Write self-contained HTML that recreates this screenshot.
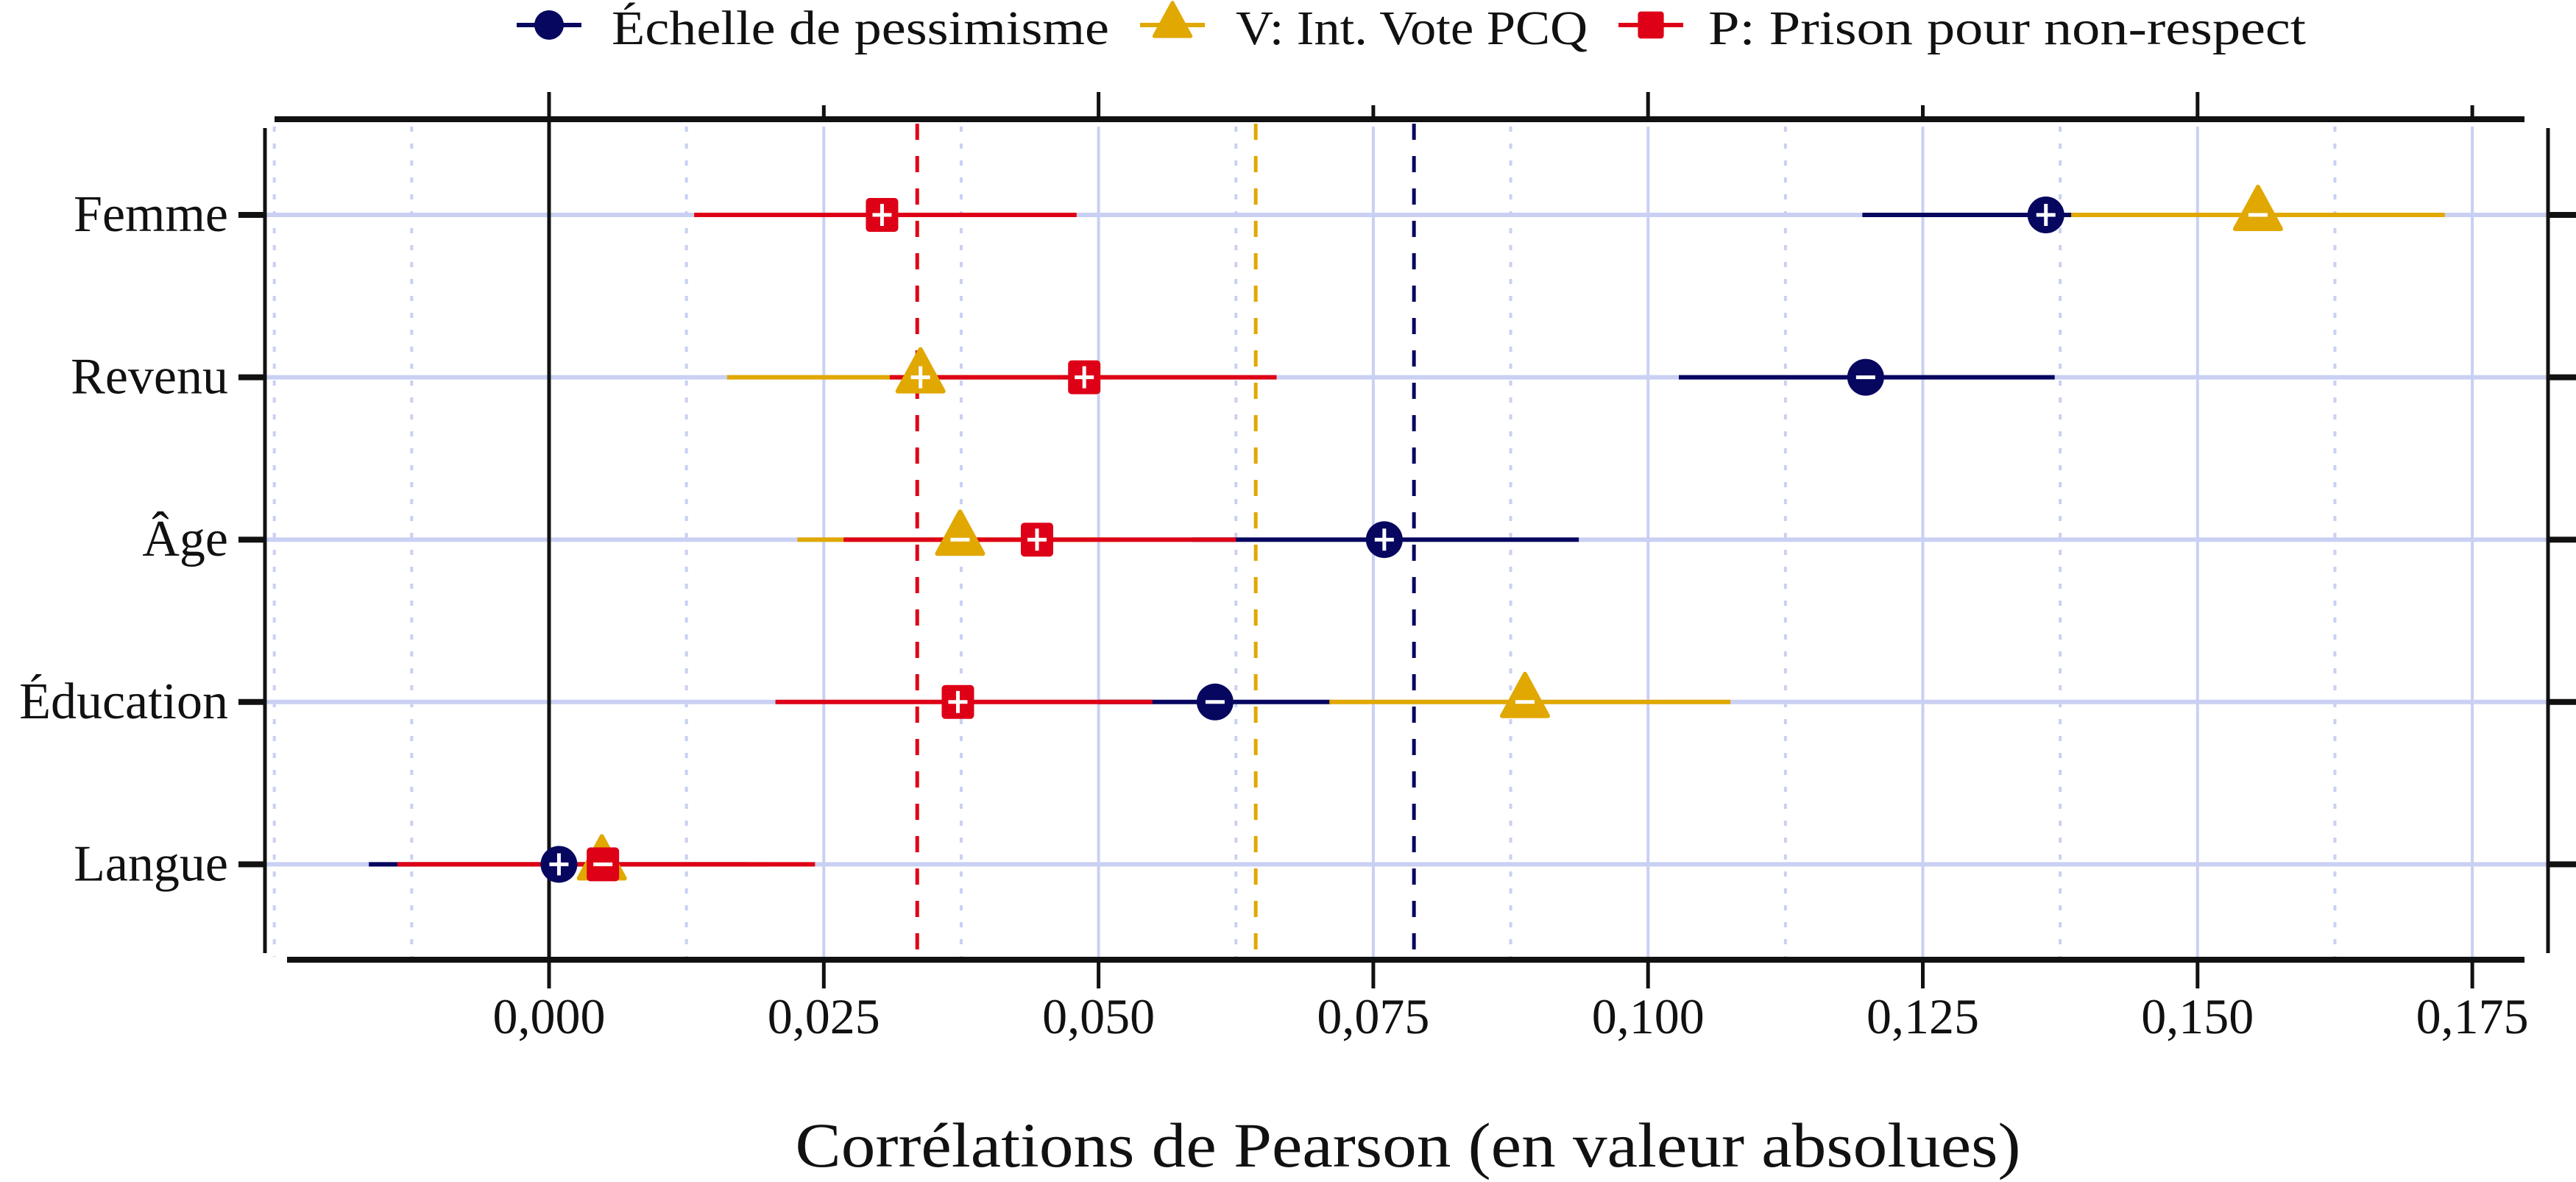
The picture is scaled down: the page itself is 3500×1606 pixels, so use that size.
<!DOCTYPE html>
<html><head><meta charset="utf-8">
<style>
html,body{margin:0;padding:0;background:#fff;}
svg{display:block;}
text{font-family:"Liberation Serif",serif;fill:#111;}
</style></head>
<body>
<svg id="chart" width="3500" height="1606" viewBox="0 0 3500 1606" xmlns="http://www.w3.org/2000/svg">
  <g id="grid"></g>
  <g id="refs"></g>
  <g id="axes"></g>
  <g id="marks"></g>
  <g id="legend"></g>
  <text x="1913" y="1585" font-size="86" text-anchor="middle" textLength="1665" lengthAdjust="spacingAndGlyphs">Corrélations de Pearson (en valeur absolues)</text>
</svg>
<script>
const categories = ["Femme","Revenu","Âge","Éducation","Langue"];
const seriesNames = ["Échelle de pessimisme","V: Int. Vote PCQ","P: Prison pour non-respect"];
const seriesColors = ["#070760","#e0a800","#de0016"];
// estimate, low, high, sign per category
const pessEst  = [0.1362, 0.1198, 0.0760, 0.0606, 0.0009];
const pessLo   = [0.1195, 0.1028, 0.0585, 0.0500, -0.0164];
const pessHi   = [0.1530, 0.1370, 0.0937, 0.0712, 0.0180];
const pessSign = ["+","-","+","-","+"];
const voteEst  = [0.1555, 0.0338, 0.0374, 0.0888, 0.0048];
const voteLo   = [0.1385, 0.0162, 0.0226, 0.0710, -0.0120];
const voteHi   = [0.1725, 0.0510, 0.0520, 0.1075, 0.0200];
const voteSign = ["-","+","-","-","+"];
const prisEst  = [0.0303, 0.0487, 0.0444, 0.0372, 0.0049];
const prisLo   = [0.0132, 0.0310, 0.0268, 0.0206, -0.0138];
const prisHi   = [0.0480, 0.0662, 0.0625, 0.0549, 0.0242];
const prisSign = ["+","+","+","+","-"];
const refMeans = [0.0787, 0.0643, 0.0335];
const xTicks = [0, 0.025, 0.05, 0.075, 0.1, 0.125, 0.15, 0.175];
const xTickLabels = ["0,000","0,025","0,050","0,075","0,100","0,125","0,150","0,175"];
const xMinor = [-0.025, -0.0125, 0.0125, 0.0375, 0.0625, 0.0875, 0.1125, 0.1375, 0.1625];

const NS = "http://www.w3.org/2000/svg";
const X = v => 746 + v / 0.025 * 373.3;
const Y = i => 292 + i * 220.6;
function mk(tag, attrs, parent){ const e=document.createElementNS(NS,tag); for(const k in attrs) e.setAttribute(k,attrs[k]); parent.appendChild(e); return e; }
const grid=document.getElementById('grid'), refs=document.getElementById('refs'), axes=document.getElementById('axes'), marks=document.getElementById('marks'), legend=document.getElementById('legend');
const GRID="#c9d0f3";

xMinor.forEach(v=>{
  const l=mk('line',{x1:X(v),x2:X(v),y1:172,y2:1300,stroke:GRID,'stroke-width':4,'stroke-dasharray':'7 16'},grid);
  
  
});
xTicks.forEach(v=>{
  if(v===0) return;
  const l=mk('line',{x1:X(v),x2:X(v),y1:172,y2:1300,stroke:GRID,'stroke-width':4},grid);
  
  
});
categories.forEach((c,i)=>{
  const l=mk('line',{x1:360,x2:3462,y1:Y(i),y2:Y(i),stroke:GRID,'stroke-width':6},grid);
  
  
});
const z=mk('line',{x1:X(0),x2:X(0),y1:125,y2:1301,stroke:'#111','stroke-width':5},grid);



refMeans.forEach((v,s)=>{
  const l=mk('line',{x1:X(v),x2:X(v),y1:168,y2:1300,stroke:seriesColors[s],'stroke-width':5,'stroke-dasharray':'22 22'},refs);
  
  
});

[[373,3430,162,162],[390,3430,1304,1304],[360,360,174,1295],[3462,3462,174,1295]].forEach((a,k)=>{
  const l=mk('line',{x1:a[0],x2:a[1],y1:a[2],y2:a[3],stroke:'#111','stroke-width':k<2?8:5},axes);
  
  
});
xTicks.forEach((v,k)=>{
  const t1=mk('line',{x1:X(v),x2:X(v),y1:(k%2===0)?125:143,y2:162,stroke:'#111','stroke-width':5},axes);
  
  
  const t2=mk('line',{x1:X(v),x2:X(v),y1:1304,y2:1343,stroke:'#111','stroke-width':5},axes);
  
  
  const tx=mk('text',{x:X(v),y:1404,'font-size':68,'text-anchor':'middle'},axes);
  tx.textContent=xTickLabels[k];
  
  
});
categories.forEach((c,i)=>{
  const t=mk('line',{x1:324,x2:360,y1:Y(i),y2:Y(i),stroke:'#111','stroke-width':8},axes);
  
  
  const r=mk('line',{x1:3462,x2:3500,y1:Y(i),y2:Y(i),stroke:'#111','stroke-width':8},axes);
  
  
  const tx=mk('text',{x:310,y:Y(i)+22,'font-size':70,'text-anchor':'end'},axes);
  tx.textContent=c;
  
  
});

function marker(shape,cx,cy,color,sign,parent,scale){
  const g=mk('g',{},parent);
  
  
  const s=scale||1;
  if(shape==='circle') mk('circle',{cx:cx,cy:cy,r:25*s,fill:color},g);
  else if(shape==='square') mk('rect',{x:cx-22*s,y:cy-23*s,width:44*s,height:46*s,rx:5*s,fill:color},g);
  else mk('path',{d:`M${cx} ${cy-38*s} L${cx+31*s} ${cy+19*s} L${cx-31*s} ${cy+19*s} Z`,fill:color,stroke:color,'stroke-width':6*s,'stroke-linejoin':'round'},g);
  if(sign){
    mk('line',{x1:cx-13,x2:cx+13,y1:cy,y2:cy,stroke:'#fff','stroke-width':5},g);
    if(sign==='+') mk('line',{x1:cx,x2:cx,y1:cy-15,y2:cy+15,stroke:'#fff','stroke-width':5},g);
  }
}

const series=[
  {est:pessEst,lo:pessLo,hi:pessHi,sign:pessSign,shape:'circle'},
  {est:voteEst,lo:voteLo,hi:voteHi,sign:voteSign,shape:'triangle'},
  {est:prisEst,lo:prisLo,hi:prisHi,sign:prisSign,shape:'square'}
];
series.forEach((s,k)=>{
  categories.forEach((c,i)=>{
    const l=mk('line',{x1:X(s.lo[i]),x2:X(s.hi[i]),y1:Y(i),y2:Y(i),stroke:seriesColors[k],'stroke-width':6},marks);
    
    
  });
});
series.forEach((s,k)=>{
  categories.forEach((c,i)=>{
    marker(s.shape,X(s.est[i]),Y(i),seriesColors[k],s.sign[i],marks);
  });
});

const legX=[746,1593,2243], legTX=[831,1679,2321], legW=[676,478,812];
seriesNames.forEach((n,k)=>{
  const g=mk('g',{},legend);
  
  
  mk('line',{x1:legX[k]-44,x2:legX[k]+44,y1:34,y2:34,stroke:seriesColors[k],'stroke-width':6},g);
  marker(series[k].shape,legX[k],34,seriesColors[k],null,g,0.8);
  const t=mk('text',{x:legTX[k],y:60,'font-size':66,textLength:legW[k],lengthAdjust:'spacingAndGlyphs'},g);
  t.textContent=n;
});
</script>
</body></html>
